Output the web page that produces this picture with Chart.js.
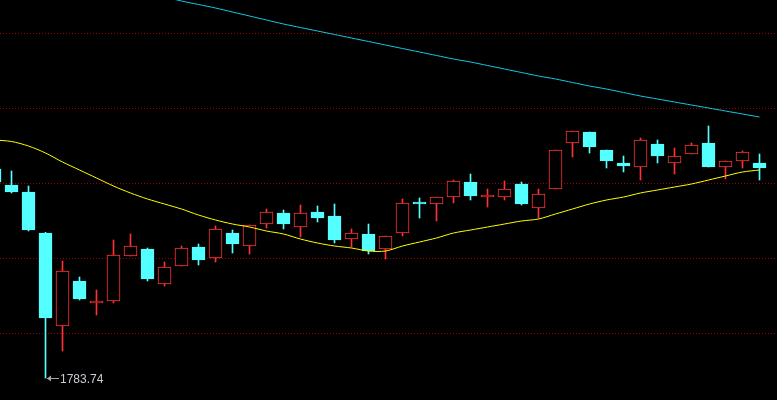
<!DOCTYPE html>
<html>
<head>
<meta charset="utf-8">
<script src="https://cdn.jsdelivr.net/npm/chart.js@4.4.0/dist/chart.umd.min.js"></script>
<style>
  html, body { margin: 0; padding: 0; background: #000; }
  #wrap { width: 777px; height: 400px; }
</style>
</head>
<body>
<div id="wrap"><canvas id="kChart" width="777" height="400"></canvas></div>
<script>
// daily candles, oldest first (first one is cut off at the left edge)
const opens = [1853.41, 1848.07, 1845.74, 1832.07, 1801.07, 1816.07, 1808.74, 1809.41, 1824.41, 1826.74,
    1815.07, 1821.07, 1827.41, 1823.74, 1832.07, 1827.74, 1835.07, 1838.74, 1834.07, 1839.07,
    1837.74, 1830.07, 1831.74, 1826.74, 1832.07, 1842.41, 1841.74, 1844.07, 1849.07, 1844.07,
    1844.07, 1848.41, 1840.41, 1846.74, 1862.07, 1865.74, 1859.74, 1855.41, 1854.07, 1861.74,
    1855.41, 1858.41, 1862.07, 1854.07, 1856.07, 1855.41];
const highs = [1854.07, 1852.74, 1847.74, 1832.30, 1822.74, 1817.41, 1813.07, 1829.74, 1831.74, 1827.07,
    1822.41, 1827.74, 1828.41, 1834.41, 1833.07, 1834.74, 1840.07, 1839.74, 1841.41, 1841.07,
    1841.74, 1833.41, 1835.07, 1831.07, 1843.41, 1843.74, 1844.07, 1849.74, 1851.74, 1846.74,
    1849.41, 1849.07, 1846.74, 1859.74, 1866.07, 1865.74, 1859.74, 1857.74, 1863.74, 1863.07,
    1860.41, 1862.07, 1867.74, 1856.07, 1859.41, 1858.41];
const lows = [1848.41, 1845.41, 1832.74, 1783.74, 1792.74, 1809.74, 1804.74, 1808.74, 1824.41, 1816.07,
    1814.41, 1821.07, 1821.41, 1822.41, 1825.41, 1825.07, 1833.74, 1833.41, 1830.74, 1835.74,
    1828.74, 1827.41, 1825.07, 1823.41, 1831.07, 1837.07, 1836.07, 1842.07, 1843.07, 1840.74,
    1843.07, 1841.41, 1837.07, 1846.74, 1857.41, 1858.74, 1853.74, 1852.41, 1849.74, 1855.41,
    1851.74, 1858.41, 1854.07, 1850.07, 1853.74, 1849.74];
const closes = [1849.07, 1845.74, 1833.07, 1803.74, 1819.41, 1810.07, 1809.41, 1824.74, 1827.74, 1816.74,
    1820.74, 1827.07, 1823.07, 1833.41, 1828.41, 1834.74, 1839.07, 1835.07, 1838.74, 1837.07,
    1829.74, 1832.07, 1826.07, 1831.07, 1842.07, 1841.74, 1844.07, 1849.41, 1844.41, 1844.74,
    1846.74, 1841.74, 1845.07, 1859.74, 1866.07, 1860.74, 1856.07, 1854.41, 1863.07, 1857.74,
    1857.74, 1861.41, 1854.07, 1856.07, 1859.07, 1853.74];

// moving averages
const maShort = [1863.07, 1862.57, 1861.07, 1858.74, 1855.74, 1853.07, 1850.41, 1847.74, 1845.41, 1843.41,
    1841.74, 1840.07, 1838.07, 1836.41, 1835.07, 1834.07, 1832.74, 1831.74, 1830.07, 1828.74,
    1827.74, 1827.07, 1826.07, 1826.07, 1827.74, 1829.07, 1830.41, 1832.07, 1833.07, 1834.07,
    1835.07, 1836.07, 1836.74, 1838.41, 1840.07, 1841.74, 1843.07, 1844.07, 1845.41, 1846.41,
    1847.41, 1848.41, 1849.74, 1851.07, 1852.41, 1853.07];
const maLong = [1924.41, 1923.07, 1921.74, 1920.41, 1919.07, 1917.74, 1916.07, 1914.74, 1913.41, 1912.07,
    1910.74, 1909.41, 1908.24, 1907.07, 1905.74, 1904.41, 1903.07, 1901.74, 1900.57, 1899.41,
    1898.24, 1897.07, 1895.91, 1894.74, 1893.57, 1892.41, 1891.24, 1890.07, 1889.07, 1887.91,
    1886.74, 1885.57, 1884.41, 1883.41, 1882.24, 1881.07, 1880.07, 1878.91, 1877.74, 1876.74,
    1875.74, 1874.74, 1873.74, 1872.74, 1871.74, 1870.74];

// price levels of the dotted guide lines
const gridLevels = [1898.74, 1873.74, 1848.74, 1823.74, 1798.74];

const UP = '#FF3232';
const DOWN = '#54FFFF';

const isUp = opens.map((o, i) => closes[i] >= o);
const bodies = opens.map((o, i) => ({ x: i, y: [o, closes[i]] }));
const wicks = highs.map((h, i) => ({ x: i, y: [lows[i], h] }));

// marks the lowest low with an arrow and its price
const lowMarker = {
    id: 'lowMarker',
    afterDatasetsDraw(chart) {
        const ctx = chart.ctx;
        let idx = 0;
        lows.forEach((v, i) => { if (v < lows[idx]) idx = i; });
        const px = Math.round(chart.scales.x.getPixelForValue(idx)) + 1;
        const py = Math.round(chart.scales.y.getPixelForValue(lows[idx])) + 0.5;
        ctx.save();
        ctx.strokeStyle = '#A8A8A8';
        ctx.fillStyle = '#A8A8A8';
        ctx.lineWidth = 1;
        ctx.beginPath();
        ctx.moveTo(px, py);
        ctx.lineTo(px + 12, py);
        ctx.stroke();
        ctx.beginPath();
        ctx.moveTo(px, py);
        ctx.lineTo(px + 4, py - 3);
        ctx.lineTo(px + 4, py + 3);
        ctx.closePath();
        ctx.fill();
        ctx.fillStyle = '#C8CCD4';
        ctx.font = '12px "Liberation Sans", Arial, sans-serif';
        ctx.textBaseline = 'middle';
        ctx.fillText(lows[idx].toFixed(2), px + 13, py + 1);
        ctx.restore();
    }
};

new Chart(document.getElementById('kChart').getContext('2d'), {
    type: 'bar',
    data: {
        datasets: [
            {
                type: 'line',
                data: maShort.map((v, i) => ({ x: i, y: v })),
                borderColor: '#FFFF00',
                borderWidth: 1,
                pointRadius: 0,
                tension: 0.3
            },
            {
                type: 'line',
                data: maLong.map((v, i) => ({ x: i, y: v })),
                borderColor: '#14C8E6',
                borderWidth: 1,
                pointRadius: 0,
                tension: 0.3
            },
            {
                data: bodies,
                grouped: false,
                barThickness: 13,
                borderWidth: 1,
                borderSkipped: false,
                borderColor: isUp.map(u => u ? UP : DOWN),
                backgroundColor: isUp.map(u => u ? '#000000' : DOWN)
            },
            {
                data: wicks,
                grouped: false,
                barThickness: 1,
                borderWidth: 0,
                backgroundColor: isUp.map(u => u ? UP : DOWN)
            }
        ]
    },
    options: {
        responsive: false,
        animation: false,
        devicePixelRatio: 1,
        layout: { padding: 0 },
        plugins: {
            legend: { display: false },
            tooltip: { enabled: false }
        },
        scales: {
            x: {
                type: 'linear',
                display: false,
                offset: false,
                min: 5.5 / 17,
                max: 5.5 / 17 + 777 / 17
            },
            y: {
                min: 1776.41,
                max: 1909.74,
                afterFit: s => { s.width = 0; },
                afterBuildTicks: s => { s.ticks = gridLevels.map(v => ({ value: v })); },
                ticks: { display: false },
                border: { display: false, dash: [1, 2] },
                grid: { color: '#A00000', drawTicks: false, lineWidth: 1 }
            }
        }
    },
    plugins: [lowMarker]
});
</script>
</body>
</html>
